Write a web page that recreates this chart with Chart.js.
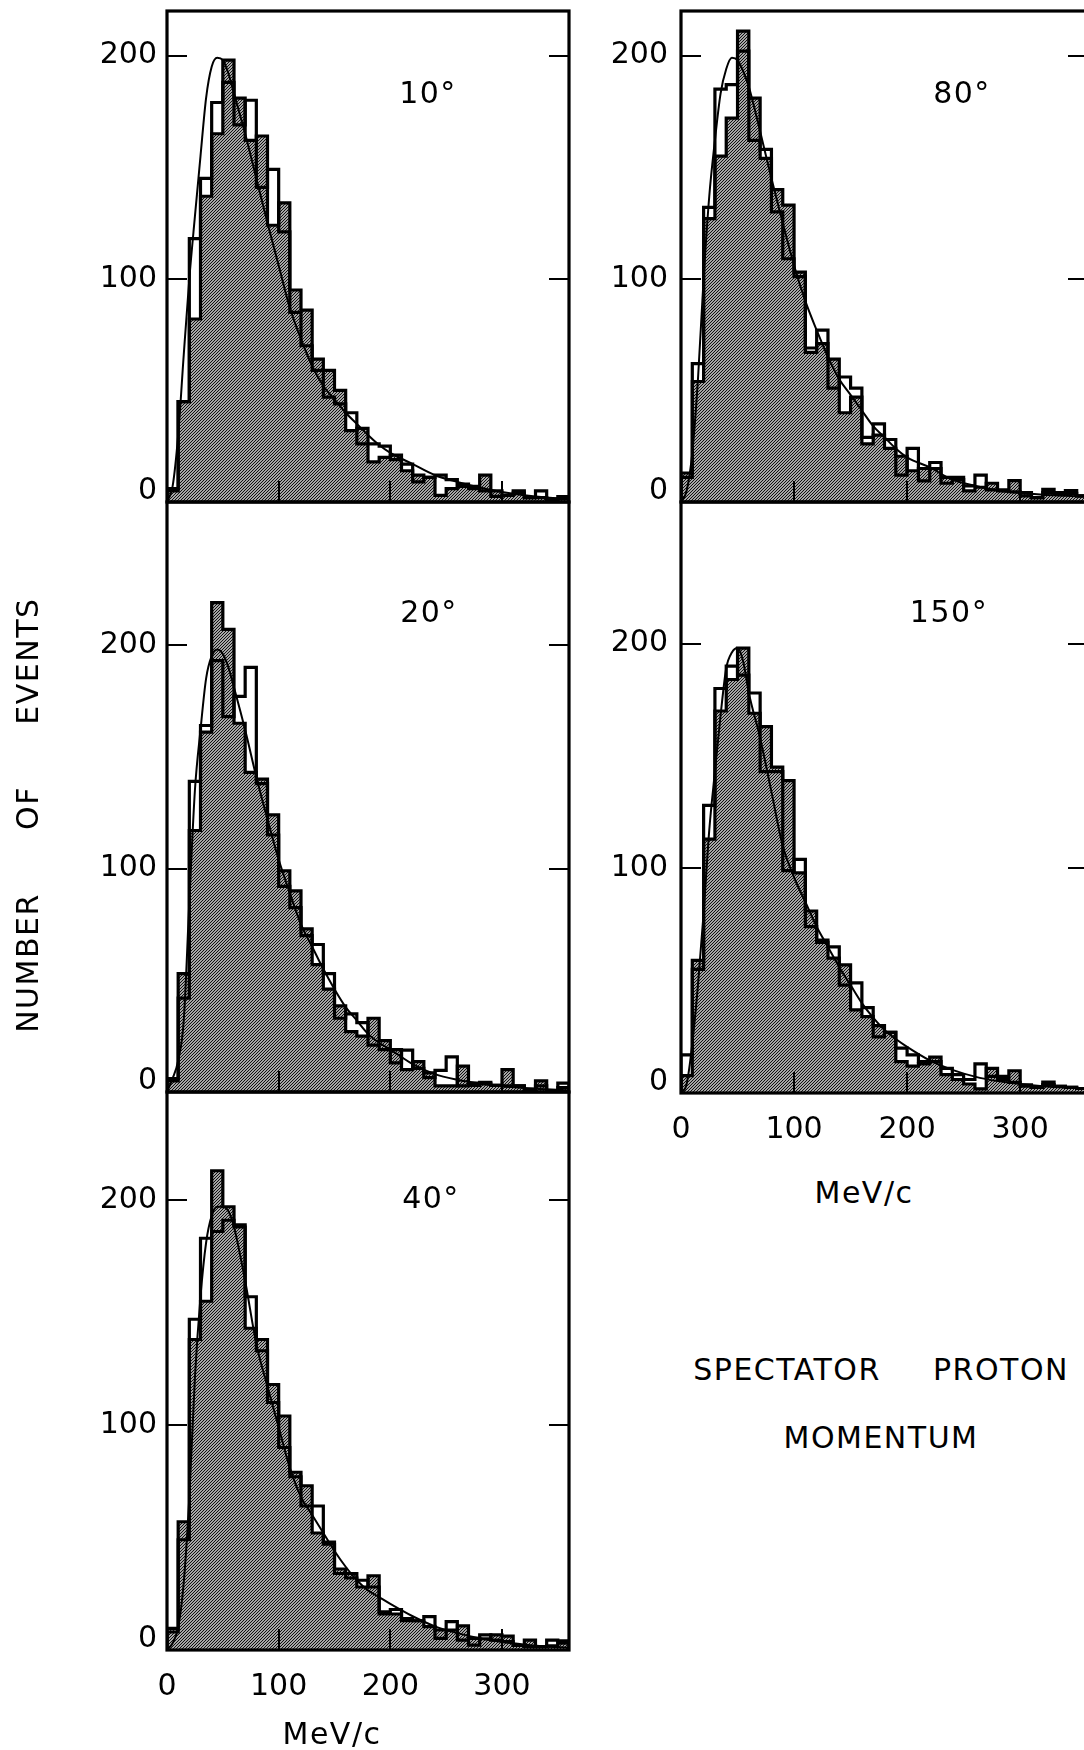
<!DOCTYPE html>
<html><head><meta charset="utf-8">
<script src="https://cdn.jsdelivr.net/npm/chart.js@4.4.1/dist/chart.umd.min.js"></script>
<style>
html,body{margin:0;padding:0;background:#fff;overflow:hidden;width:1084px;height:1750px;position:relative;}
canvas{position:absolute;}
.lbl{position:absolute;font-family:'DejaVu Sans',sans-serif;font-size:30px;color:#000;white-space:nowrap;transform:translate(-50%,-50%);letter-spacing:1.5px;line-height:1;}
.vert{transform:translate(-50%,-50%) rotate(-90deg);}
</style></head><body>
<canvas id="c10" width="600" height="530" style="left:0;top:0"></canvas>
<canvas id="c20" width="600" height="650" style="left:0;top:470px"></canvas>
<canvas id="c40" width="600" height="690" style="left:0;top:1060px"></canvas>
<canvas id="c80" width="600" height="530" style="left:514px;top:0"></canvas>
<canvas id="c150" width="600" height="700" style="left:514px;top:470px"></canvas>

<div class="lbl" style="left:428px;top:93px">10°</div>
<div class="lbl" style="left:962px;top:93px">80°</div>
<div class="lbl" style="left:429px;top:612px">20°</div>
<div class="lbl" style="left:949px;top:612px">150°</div>
<div class="lbl" style="left:431px;top:1198px">40°</div>
<div class="lbl" style="left:332px;top:1734px">MeV/c</div>
<div class="lbl" style="left:864px;top:1193px">MeV/c</div>
<div class="lbl" style="left:787px;top:1370px">SPECTATOR</div>
<div class="lbl" style="left:1001px;top:1370px">PROTON</div>
<div class="lbl" style="left:881px;top:1438px">MOMENTUM</div>
<div class="lbl vert" style="left:28px;top:963px">NUMBER</div>
<div class="lbl vert" style="left:28px;top:808px">OF</div>
<div class="lbl vert" style="left:28px;top:661px">EVENTS</div>

<script>
// ---- categories / ticks ----
const binEdges = [0,10,20,30,40,50,60,70,80,90,100,110,120,130,140,150,160,170,180,190,200,210,220,230,240,250,260,270,280,290,300,310,320,330,340,350,360];
const xTicks = [0, 100, 200, 300];
const yTicks = [0, 100, 200];

// ---- histogram values (events per 10 MeV/c bin) ----
const shaded10 = [6,45,82,137,165,198,181,162,164,124,134,95,86,64,59,50,32,33,18,20,21,14,12,11,3,6,8,7,12,5,3,4,2,2,1,2.4];
const open10   = [5,45,118,145,179,188,169,180,141,149,121,85,70,59,47,44,40,26,26,25,19,17,9,11,12,10,7,6,5,2.5,3,5,2,5,1,1.5];
const shaded20 = [6,53,117,161,219,207,165,143,140,124,99,90,73,57,46,38.5,27,25,33,23,19,10,13.6,8.6,2.7,2.7,11.6,4,3.6,3,10,2.7,1.2,5,0.6,2];
const open20   = [5,42,139,164,193,168,177,190,138,115,92,82.5,70,66,53,33,35,31,21,19,13,18.7,10.6,6.4,9.7,15.7,2.7,3,4.3,3,2.7,2.7,0.6,2.7,0.5,4];
const shaded40 = [9.6,57,138,155,213,197,189,143,138,118,104,79,73,52,47,36,34,28,33,16,16,14,13,10.4,8.9,8.9,10.7,5.2,5,6.7,6.2,2,4.4,1.5,1.8,4.1];
const open40   = [8,49,147,183,186,191,188,157,133,110,90,77,64,64,48,34,32,31,28,17,18,13,13,14.8,5.2,12.6,4.4,2.2,6.7,4.4,3.7,2,1.5,1.5,4.4,3];
const shaded80 = [13,54,127,155,172,211,181,154,140,133,103,67,71,64,40,47,26,30,24,20.5,14,15,15,11,11,5,6.6,8.4,5.4,9.6,4.2,2,4.2,4.2,3.9,2.7];
const open80   = [11,62,132,185,187,202,162,158,130,109,101,69,77,51,56,51,29,35,28,12,24,9.5,17.7,8.4,10,7.2,12,5.4,5,4.6,2.7,2,5.7,3.6,5.1,2.7];
const shaded150 = [7.7,59,113,170,184,198,169,163,145,139,98,81,68,60,57,37,34,30,27,14,12,13,16,8.2,6,4,1.8,11,7.4,9.9,3,2.5,3.7,3,2.5,2];
const open150   = [17,55,128,180,190,186,178,143,143,99,104,74,67,65,48,49,38,25,27,20,17,14,14,11,8.2,6,13,7.4,6,4.7,3.6,2.5,4.9,3,2.5,2];

// ---- smooth curves (read at these momenta) ----
const curveX   = [0,5,10,15,20,25,30,35,40,45,50,55,60,70,80,90,100,110,120,130,140,150,160,170,180,190,200,220,240,260,280,300,320,340,360];
const curve10  = [0,7,30,66,100,128,155,181,195,199,198,192,183,165,145,125,106,87,73,61,52,46,40,35,30,25.5,22,17,12,9,6.5,4.5,3,2,1.5];
const curve20  = [0,6,14,32,85,135,162,185,195,198,196,190,181,162,141,122,104,89,75,65,55,46,38,32,26,22,19,12.5,8,5.5,3.8,2.6,1.8,1.2,0.7];
const curve40  = [0,3,10,30,68,121,157,181,193,197,197,195,188,164,136,117,99,81,68,60,52,44,37,31,26.5,23.5,20.5,15,10.5,7.5,5.2,3.6,2.5,1.6,1];
const curve80  = [0,5,22,55,100,137,162,183,194,199,198,193,186,166,145,125,106,90,77,65,55,48,41,34,29,24,20,15.5,10,7.3,5.2,4,3.3,2.8,2.3];
const curve150 = [0,4,22,48,80,117,143,168,189,196,198,192,178,158,134,110,96,85,74,65,56,48,40,33.5,28,24,20.5,14.5,10.3,7.3,5.3,4,3,2.4,2];

// ---- helpers ----
function stepPoints(values) {
  const n = values.length;
  const pts = [{x: binEdges[0], y: 0}];
  values.forEach((v, i) => pts.push({x: binEdges[i], y: v}));
  pts.push({x: binEdges[n], y: values[n - 1]});
  pts.push({x: binEdges[n], y: 0});
  return pts;
}
function makeHatch(ctx) {
  const c = document.createElement('canvas');
  c.width = 3; c.height = 3;
  const g = c.getContext('2d');
  g.fillStyle = '#a6a6a6'; g.fillRect(0, 0, 3, 3);
  g.fillStyle = '#111111';
  for (let i = 0; i < 3; i++) g.fillRect(i, 2 - i, 1, 1);
  return ctx.createPattern(c, 'repeat');
}
const frameTicks = {
  id: 'frameTicks',
  afterDatasetsDraw(chart) {
    const {ctx, chartArea: a, scales: {x, y}} = chart;
    ctx.save();
    ctx.strokeStyle = '#000';
    ctx.lineWidth = 2;
    ctx.beginPath();
    y.ticks.forEach(t => {
      if (t.value === 0) return;
      const py = Math.round(y.getPixelForValue(t.value));
      ctx.moveTo(a.left, py); ctx.lineTo(a.left + 20, py);
      ctx.moveTo(a.right, py); ctx.lineTo(a.right - 20, py);
    });
    x.ticks.forEach(t => {
      if (t.value === 0) return;
      const px = Math.round(x.getPixelForValue(t.value));
      ctx.moveTo(px, a.bottom); ctx.lineTo(px, a.bottom - 21);
    });
    ctx.stroke();
    ctx.lineWidth = 3.2;
    ctx.strokeRect(a.left, a.top, a.right - a.left, a.bottom - a.top);
    ctx.restore();
  }
};

const FONT = 'DejaVu Sans';
const panels = [
  {id: 'c10',  shaded: shaded10,  open: open10,  curve: curve10,  yMax: 220, showX: false, pad: {left: 0, right: 31, top: 11, bottom: 28}, labelPad: 10},
  {id: 'c20',  shaded: shaded20,  open: open20,  curve: curve20,  yMax: 264, showX: false, pad: {left: 0, right: 31, top: 32, bottom: 28}, labelPad: 10},
  {id: 'c40',  shaded: shaded40,  open: open40,  curve: curve40,  yMax: 248, showX: true,  pad: {left: 0, right: 31, top: 32, bottom: 40}, labelPad: 10},
  {id: 'c80',  shaded: shaded80,  open: open80,  curve: curve80,  yMax: 220, showX: false, pad: {left: 0, right: 26, top: 11, bottom: 28}, labelPad: 13},
  {id: 'c150', shaded: shaded150, open: open150, curve: curve150, yMax: 263, showX: true,  pad: {left: 0, right: 26, top: 32, bottom: 17}, labelPad: 13}
];

panels.forEach(p => {
  const ctx = document.getElementById(p.id).getContext('2d');
  new Chart(ctx, {
    type: 'line',
    data: {
      datasets: [
        {label: 'shaded', data: stepPoints(p.shaded), stepped: 'before', fill: 'origin',
         backgroundColor: makeHatch(ctx), borderColor: '#000', borderWidth: 3.2, pointRadius: 0, order: 3},
        {label: 'open', data: stepPoints(p.open), stepped: 'before', fill: false,
         borderColor: '#000', borderWidth: 3.2, pointRadius: 0, order: 2},
        {label: 'curve', data: curveX.map((x, i) => ({x: x, y: p.curve[i]})), fill: false,
         borderColor: '#000', borderWidth: 2, pointRadius: 0, cubicInterpolationMode: 'monotone', order: 1}
      ]
    },
    options: {
      responsive: false, devicePixelRatio: 1, animation: false, events: [],
      layout: {padding: p.pad, autoPadding: false},
      plugins: {legend: {display: false}, tooltip: {enabled: false}},
      scales: {
        x: {
          type: 'linear', min: 0, max: 360,
          afterBuildTicks: s => { s.ticks = xTicks.map(v => ({value: v})); },
          afterFit: s => { s.height = p.showX ? 60 : 0; s.paddingLeft = 0; s.paddingRight = 0; },
          grid: {display: false, drawTicks: false}, border: {display: false},
          ticks: {display: p.showX, font: {family: FONT, size: 30}, color: '#000', padding: 19,
                  maxRotation: 0, autoSkip: false}
        },
        y: {
          min: 0, max: p.yMax,
          afterBuildTicks: s => { s.ticks = yTicks.map(v => ({value: v})); },
          afterFit: s => { s.width = 167; s.paddingTop = 0; s.paddingBottom = 0; },
          grid: {display: false, drawTicks: false}, border: {display: false},
          ticks: {font: {family: FONT, size: 30, lineHeight: 0.74}, color: '#000', padding: p.labelPad,
                  callback: v => v === 0 ? [String(v), ''] : String(v)}
        }
      }
    },
    plugins: [frameTicks]
  });
});
</script>
</body></html>
